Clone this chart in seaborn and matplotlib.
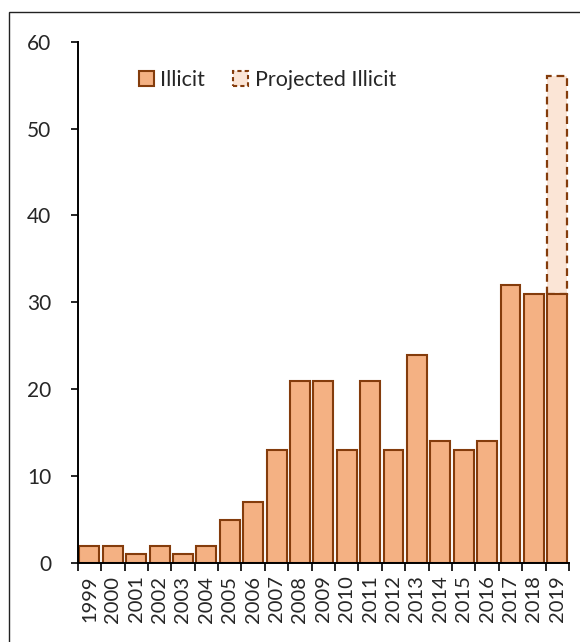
import numpy as np
import pandas as pd
import seaborn as sns
import matplotlib.pyplot as plt
from matplotlib.patches import Patch, Rectangle

# chart data
years = [str(y) for y in range(1999, 2020)]
illicit = [2, 2, 1, 2, 1, 2, 5, 7, 13, 21, 21, 13, 21, 13, 24, 14, 13, 14, 32, 31, 31]
projected = [0] * 20 + [25]
y_ticks = [0, 10, 20, 30, 40, 50, 60]

fill = "#F4B183"
edge = "#843C0C"
proj_fill = "#FBE5D6"

sns.set_theme(style="white")
plt.rcParams["font.family"] = ["Lato", "DejaVu Sans"]

df = pd.DataFrame({"year": years, "illicit": illicit, "projected": projected})

fig = plt.figure(figsize=(5.8, 6.42), dpi=100)
ax = fig.add_axes([0.134, 0.123, 0.847, 0.812])

# projected part stacked on top of illicit
proj = df[df["projected"] > 0]
idx = [years.index(y) for y in proj["year"]]
ax.bar(idx, proj["projected"], bottom=proj["illicit"], width=0.85,
       color=proj_fill, edgecolor=edge, linewidth=1.6, linestyle=(0, (3.5, 2.2)), zorder=1)

sns.barplot(data=df, x="year", y="illicit", ax=ax, color=fill, saturation=1,
            edgecolor=edge, linewidth=1.5, width=0.85, zorder=2)

ax.set_xlim(-0.5, len(years) - 0.5)
ax.set_ylim(0, 60)
ax.set_yticks(y_ticks)
ax.set_xlabel("")
ax.set_ylabel("")
ax.tick_params(axis="y", labelsize=15, length=5, width=1.2, color="black", direction="out", left=True, pad=14)
ax.tick_params(axis="x", which="major", labelsize=14.5, length=0, rotation=90, pad=9)
ax.set_xticks(np.arange(-0.5, len(years), 1), minor=True)
ax.tick_params(axis="x", which="minor", length=6, width=1.2, color="black", bottom=True, direction="out")
for s in ["top", "right"]:
    ax.spines[s].set_visible(False)
for s in ["left", "bottom"]:
    ax.spines[s].set_color("black")
    ax.spines[s].set_linewidth(1.4)

handles = [Patch(facecolor=fill, edgecolor=edge, linewidth=1.5, label="Illicit"),
           Patch(facecolor=proj_fill, edgecolor=edge, linewidth=1.5, linestyle=(0, (2, 1.5)),
                 label="Projected Illicit")]
ax.legend(handles=handles, loc="center left", bbox_to_anchor=(0.085, 0.927), ncol=2, frameon=False,
          fontsize=15.5, handlelength=0.7, handleheight=0.7, handletextpad=0.3, columnspacing=1.3)

# outer border of the chart area
fig.patches.append(Rectangle((0.0155, -0.1), 1.5, 1.081, transform=fig.transFigure,
                             fill=False, edgecolor="#222222", linewidth=1))

fig.savefig("out.png", dpi=100)
